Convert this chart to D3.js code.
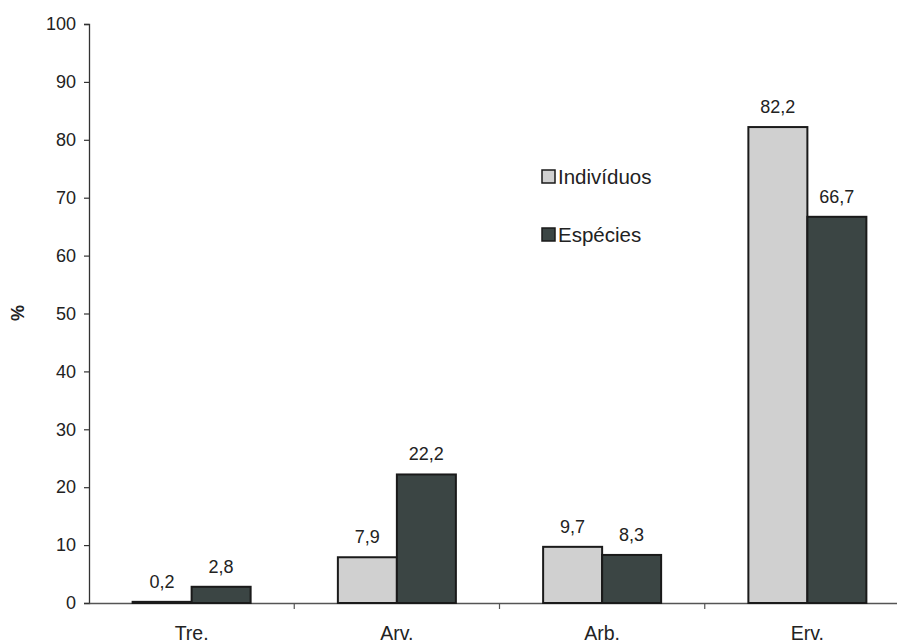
<!DOCTYPE html>
<html><head><meta charset="utf-8">
<script src="https://cdn.jsdelivr.net/npm/d3@7"></script>
<style>body{margin:0;background:#fff}svg{display:block}text{font-family:Arial,"Liberation Sans",sans-serif}</style>
</head><body>
<svg id="c" width="897" height="643"></svg>
<script>
const categories = ["Tre.", "Arv.", "Arb.", "Erv."];
const seriesNames = ["Indivíduos", "Espécies"];
const individuos = [0.2, 7.9, 9.7, 82.2];
const especies = [2.8, 22.2, 8.3, 66.7];
const yTicks = [0,10,20,30,40,50,60,70,80,90,100];
const colors = ["#d0d0d0", "#3b4544"];

const svg = d3.select("#c");
const x0 = 89, x1 = 910, yb = 603, yt = 24;
const x = d3.scaleBand().domain(categories).range([x0, x1]);
const y = d3.scaleLinear().domain([0,100]).range([yb, yt]);
const barW = 59;
const fmt = v => String(v).replace(".", ",");

// y axis
const ya = svg.append("g").attr("transform", `translate(${x0},0)`)
  .call(d3.axisLeft(y).tickValues(yTicks).tickSize(5).tickPadding(8).tickFormat(d=>d));
ya.select(".domain").attr("stroke","#333").attr("stroke-width",1.3);
ya.selectAll(".tick line").attr("stroke","#333").attr("stroke-width",1.2);
ya.selectAll(".tick text").attr("font-size",18).attr("fill","#222");

// x axis
const xa = svg.append("g").attr("transform", `translate(0,${yb})`)
  .call(d3.axisBottom(x).tickSize(0).tickPadding(0).tickFormat(""));
xa.select(".domain").attr("stroke","#555").attr("stroke-width",1.3);
xa.selectAll(".tick").remove();
const bounds = categories.map((c,i)=>x(c)).concat([x1]);
svg.selectAll(".xt").data(bounds.slice(1)).enter().append("line")
  .attr("x1",d=>d).attr("x2",d=>d).attr("y1",yb).attr("y2",yb+6)
  .attr("stroke","#555").attr("stroke-width",1.2);
svg.selectAll(".xl").data(categories).enter().append("text")
  .attr("x",d=>x(d)+x.bandwidth()/2).attr("y",640)
  .attr("text-anchor","middle").attr("font-size",19.5).attr("fill","#222").text(d=>d);

// y title
svg.append("text").attr("transform","translate(24,313) rotate(-90)")
  .attr("text-anchor","middle").attr("font-size",18).attr("font-weight","bold").attr("fill","#222").text("%");

// bars
const series = [individuos, especies];
series.forEach((vals, s) => {
  const g = svg.append("g");
  g.selectAll("rect").data(categories).enter().append("rect")
    .attr("x", (d,i)=> x(d)+x.bandwidth()/2 + (s===0 ? -barW : 0))
    .attr("y", (d,i)=> y(vals[i]))
    .attr("width", barW)
    .attr("height", (d,i)=> yb - y(vals[i]))
    .attr("fill", colors[s]).attr("stroke","#1a1a1a").attr("stroke-width",2);
  g.selectAll("text").data(categories).enter().append("text")
    .attr("x", (d,i)=> x(d)+x.bandwidth()/2 + (s===0 ? -barW/2 : barW/2))
    .attr("y", (d,i)=> y(vals[i]) - 14)
    .attr("text-anchor","middle").attr("font-size",18).attr("fill","#222")
    .text((d,i)=>fmt(vals[i]));
});

// legend
const lg = svg.append("g");
seriesNames.forEach((n,i)=>{
  const yy = 170 + i*58;
  lg.append("rect").attr("x",542).attr("y",yy).attr("width",13).attr("height",13)
    .attr("fill",colors[i]).attr("stroke","#1a1a1a").attr("stroke-width",1.5);
  lg.append("text").attr("x",558).attr("y",yy+14).attr("font-size",20.5).attr("fill","#222").text(n);
});
</script>
</body></html>
